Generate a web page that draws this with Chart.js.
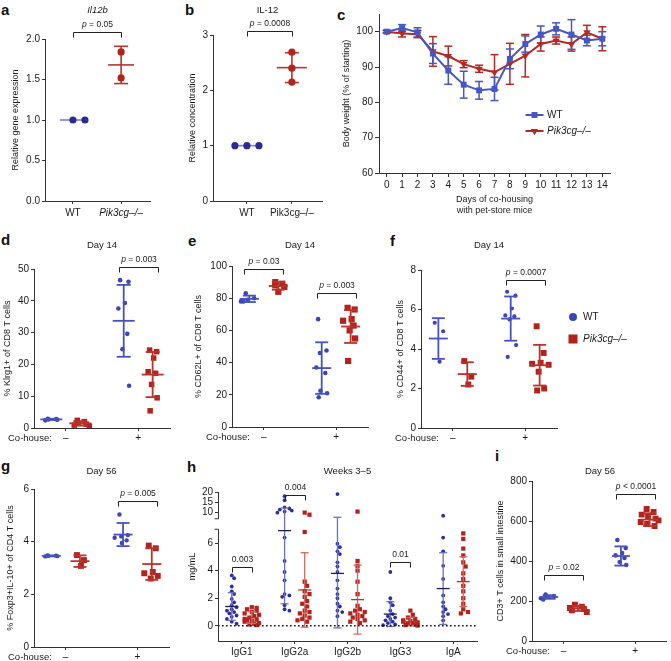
<!DOCTYPE html>
<html>
<head>
<meta charset="utf-8">
<title>Pik3cg co-housing figure</title>
<script src="https://cdn.jsdelivr.net/npm/chart.js@4.4.1/dist/chart.umd.min.js"></script>
<style>
  html, body { margin: 0; padding: 0; background: #fff; }
  body { position: relative; width: 671px; height: 661px; overflow: hidden; font-family: 'Liberation Sans', Arial, sans-serif; }
  canvas { position: absolute; }
  .tag { position: absolute; font-weight: bold; font-size: 15px; line-height: 15px; color: #111; }
</style>
</head>
<body>
<div class="tag" style="left:1px;top:2px">a</div>
<div class="tag" style="left:185px;top:2px">b</div>
<div class="tag" style="left:337px;top:7px">c</div>
<div class="tag" style="left:1px;top:232px">d</div>
<div class="tag" style="left:188px;top:233px">e</div>
<div class="tag" style="left:390px;top:233px">f</div>
<div class="tag" style="left:1px;top:458px">g</div>
<div class="tag" style="left:187px;top:459px">h</div>
<div class="tag" style="left:495px;top:448px">i</div>

<canvas id="pa"></canvas>
<canvas id="pb"></canvas>
<canvas id="pc"></canvas>
<canvas id="pd"></canvas>
<canvas id="pe"></canvas>
<canvas id="pf"></canvas>
<canvas id="pg"></canvas>
<canvas id="ph"></canvas>
<canvas id="pi"></canvas>

<script>
// ---------------- data ----------------
// a: Il12b expression
const aLabels = ['WT', 'Pik3cg–/–'];
const aWT = [1.0, 1.0];
const aKO = [1.84, 1.52];
const aMean = [1.0, 1.68];
const aSD = [0, 0.23];
const aYTicks = [0, 0.5, 1.0, 1.5, 2.0];

// b: IL-12
const bLabels = ['WT', 'Pik3cg–/–'];
const bWT = [1.0, 1.0, 1.0];
const bKO = [2.69, 2.40, 2.15];
const bMean = [1.0, 2.41];
const bSD = [0, 0.27];
const bYTicks = [0, 1, 2, 3];

// c: body weight over co-housing
const cDays = [0, 1, 2, 3, 4, 5, 6, 7, 8, 9, 10, 11, 12, 13, 14];
const cWT    = [100, 101.0, 99.8, 93.8, 89.0, 85.0, 83.4, 83.8, 92.3, 96.5, 99.2, 100.8, 99.2, 97.5, 98.0];
const cWTerr = [0.4, 1.0, 1.3, 2.8, 3.9, 3.8, 2.5, 3.3, 2.8, 2.3, 2.4, 1.7, 4.2, 1.5, 2.0];
const cKO    = [100, 99.5, 99.3, 94.4, 93.1, 90.8, 89.5, 88.5, 90.9, 93.2, 96.5, 97.5, 96.5, 99.8, 98.0];
const cKOerr = [0.3, 1.0, 1.0, 4.2, 2.8, 1.0, 1.0, 5.0, 5.8, 6.0, 2.0, 1.0, 2.0, 2.0, 3.4];
const cYTicks = [60, 70, 80, 90, 100];
const seriesNames = ['WT', 'Pik3cg–/–'];

// co-housing panels: group order is WT-, KO-, WT+, KO+
const coLabels = ['–', '+'];

// d: Klrg1+ of CD8, day 14
const dWTneg = [2.9, 2.8, 2.7, 2.6, 2.4];
const dKOneg = [2.4, 2.0, 1.6, 1.2, 0.9, 0.6];
const dWTpos = [46.5, 46.0, 39.3, 37.6, 29.6, 24.8, 13.3];
const dKOpos = [24.5, 24.0, 22.0, 17.7, 17.2, 13.7, 9.5, 5.4];
const dMean = [2.7, 1.45, 33.7, 16.8];
const dSD = [0.2, 0.7, 11.3, 7.1];
const dYTicks = [0, 10, 20, 30, 40, 50];

// e: CD62L+ of CD8, day 14
const eWTneg = [83, 80, 79, 78, 78];
const eKOneg = [90, 89, 88, 87, 84];
const eWTpos = [67, 47.5, 46, 37, 33.5, 22.5, 21, 18.5];
const eKOpos = [74, 73, 67, 66, 63, 60, 55, 41];
const eMean = [79.6, 87.6, 36.6, 62.4];
const eSD = [2.0, 2.3, 16.0, 10.2];
const eYTicks = [0, 20, 40, 60, 80, 100];

// f: CD44+ of CD8, day 14
const fWTneg = [5.33, 4.9, 3.36];
const fKOneg = [3.39, 2.6, 2.2];
const fWTpos = [6.9, 6.7, 6.05, 5.7, 5.65, 5.5, 4.2, 3.6];
const fKOpos = [5.15, 3.8, 3.3, 3.25, 3.2, 2.85, 2.0, 1.9];
const fMean = [4.53, 2.73, 5.54, 3.18];
const fSD = [1.03, 0.6, 1.12, 1.03];
const fYTicks = [0, 2, 4, 6, 8];

// g: Foxp3+IL-10+ of CD4, day 56
const gWTneg = [3.48, 3.47, 3.46, 3.45, 3.44];
const gKOneg = [3.49, 3.3, 3.08];
const gWTpos = [5.03, 4.25, 4.2, 4.15, 4.05, 3.95];
const gKOpos = [3.85, 3.75, 2.85, 2.8, 2.7, 2.6];
const gMean = [3.46, 3.26, 4.27, 3.15];
const gSD = [0.02, 0.22, 0.44, 0.6];
const gYTicks = [0, 2, 4, 6];

// h: serum immunoglobulins, weeks 3-5 (mg/mL)
const hLabels = ['IgG1', 'IgG2a', 'IgG2b', 'IgG3', 'IgA'];
const hWT = [
  [3.65, 3.45, 2.85, 2.5, 2.3, 1.95, 1.7, 1.5, 1.35, 1.2, 1.1, 1.0, 0.9, 0.75, 0.65, 0.5, 0.3, 0.15],
  [18, 16, 12.5, 12, 11.5, 11, 10.5, 10, 6.4, 4.7, 3.9, 3.3, 2.3, 2.2, 2.1, 1.5, 1.2, 1.1],
  [19, 5.95, 5.7, 5.4, 5.2, 4.6, 4.3, 3.9, 3.3, 2.7, 2.3, 2.0, 1.6, 1.4, 1.1, 1.0, 0.7],
  [3.9, 2.0, 1.7, 1.5, 1.1, 0.85, 0.7, 0.6, 0.5, 0.4, 0.3, 0.2, 0.1, 0.05],
  [8.5, 6.4, 5.4, 4.35, 3.4, 2.2, 1.7, 1.4, 1.2, 1.0, 0.85, 0.7, 0.4]
];
const hKO = [
  [1.35, 1.3, 1.2, 1.1, 1.0, 0.9, 0.8, 0.7, 0.6, 0.5, 0.45, 0.4, 0.35, 0.3, 0.2, 0.15, 0.1, 0.05],
  [10, 9, 6.8, 3.2, 2.9, 2.5, 2.3, 2.1, 1.8, 1.6, 1.4, 1.1, 1.0, 0.9, 0.75, 0.6, 0.5, 0.4, 0.3],
  [10.5, 4.7, 4.35, 4.0, 3.2, 2.3, 1.45, 1.2, 1.1, 1.0, 0.9, 0.8, 0.7, 0.6, 0.5, 0.4, 0.3, 0.2],
  [1.1, 0.8, 0.6, 0.5, 0.4, 0.35, 0.3, 0.25, 0.2, 0.15, 0.1, 0.05, 0.02],
  [6.7, 6.3, 5.6, 5.1, 4.6, 4.3, 3.8, 3.4, 2.9, 2.5, 2.0, 1.6, 1.2, 1.0, 0.9]
];
const hWTmean = [1.4, 6.9, 3.8, 0.85, 2.7];
const hWTsd = [1.0, 5.3, 3.95, 0.9, 2.6];
const hKOmean = [0.6, 2.6, 1.9, 0.3, 3.2];
const hKOsd = [0.42, 2.7, 2.5, 0.3, 1.8];
const hYTicks = [0, 2, 4, 6, 10, 15, 20];

// i: CD3+ T cells in small intestine, day 56
const iWTneg = [232, 225, 220, 214, 208];
const iKOneg = [182, 172, 165, 160, 153, 145];
const iWTpos = [505, 465, 440, 428, 415, 395, 380];
const iKOpos = [660, 645, 632, 620, 612, 603, 595, 585, 575];
const iMean = [220, 163, 425, 607];
const iSD = [9, 13, 48, 32];
const iYTicks = [0, 200, 400, 600, 800];

// ---------------- look ----------------
const FONT = "'Liberation Sans', Arial, Helvetica, sans-serif";
const AX = '#333';
const TXT = '#1b1b1b';
const INDIGO = '#2c2a94';
const BLUE = '#3d45b0', BLUE_BAR = '#4753bb';
const RED = '#b3231e', RED_BAR = '#b8342d';
const C_BLUE = '#4757c2', C_RED = '#b12a24';
Chart.defaults.font.family = FONT;
Chart.defaults.color = TXT;

// preferred sideways shift (in units of style.jit px) so sparse groups are not a single column
const JIT = [-0.6, 0.8, 0.2, -0.9, 0.6, -0.2, 0.9, -0.5, 0.4];

const fnt = (size, style) => ({family: FONT, size: size, style: style || 'normal', weight: 'normal', lineHeight: 1.2});
const P = s => [{t: 'p', i: true}, {t: ' ' + s}];

function line(ctx, x1, y1, x2, y2) {
  ctx.beginPath(); ctx.moveTo(x1, y1); ctx.lineTo(x2, y2); ctx.stroke();
}

// text with italic pieces, centred (or left aligned) on cx
function rich(ctx, parts, cx, cy, size, align) {
  ctx.textBaseline = 'middle';
  ctx.textAlign = 'left';
  ctx.fillStyle = TXT;
  const fonts = parts.map(pt => (pt.i ? 'italic ' : '') + size + 'px ' + FONT);
  const widths = parts.map((pt, k) => { ctx.font = fonts[k]; return ctx.measureText(pt.t).width; });
  const total = widths.reduce((s, w) => s + w, 0);
  let x = align === 'left' ? cx : cx - total / 2;
  parts.forEach((pt, k) => { ctx.font = fonts[k]; ctx.fillText(pt.t, x, cy); x += widths[k]; });
}

// deterministic beeswarm: pixel offsets for one group
function swarm(vals, toPx, st) {
  const placed = [];
  const base = [0];
  for (let k = 1; k * st.step <= st.max; k++) base.push(k * st.step, -k * st.step);
  return vals.map((v, i) => {
    const y = toPx(v);
    const pref = st.jit ? JIT[i % JIT.length] * st.jit : 0;
    const cands = [pref].concat(base.map(c => c + pref).filter(c => Math.abs(c) <= st.max));
    let pick = cands.find(c => placed.every(q => Math.hypot(q.x - c, q.y - y) >= st.sep));
    if (pick === undefined) pick = base[placed.length % base.length];
    placed.push({x: pick, y: y});
    return pick;
  });
}

function place(cv, box) {
  cv.width = box.w; cv.height = box.h;
  cv.style.left = box.x + 'px'; cv.style.top = box.y + 'px';
  cv.style.width = box.w + 'px'; cv.style.height = box.h + 'px';
}

// broken y axis for panel h: values above the break are squeezed into the top strip
const hMin = -1.1, hMax = 20, hBreak = 7, hLowFrac = 0.75, hGapFrac = 0.07;
function hFrac(v) {
  if (v <= hBreak) return (v - hMin) / (hBreak - hMin) * hLowFrac;
  return hLowFrac + hGapFrac + (v - hBreak) / (hMax - hBreak) * (1 - hLowFrac - hGapFrac);
}
class BrokenScale extends Chart.LinearScale {
  getPixelForValue(v) {
    if (v === null || isNaN(v)) return NaN;
    return this.getPixelForDecimal(hFrac(v));
  }
  getValueForPixel(px) {
    const d = this.getDecimalForPixel(px);
    if (d <= hLowFrac) return hMin + d / hLowFrac * (hBreak - hMin);
    return hBreak + (d - hLowFrac - hGapFrac) / (1 - hLowFrac - hGapFrac) * (hMax - hBreak);
  }
}
BrokenScale.id = 'broken';
BrokenScale.defaults = Chart.LinearScale.defaults;
Chart.register(BrokenScale);

function scalesFor(p) {
  return {
    x: {
      type: 'linear', position: 'bottom', min: p.xRange[0], max: p.xRange[1],
      afterFit: s => { s.height = p.box.y + p.box.h - p.area.b; },
      afterBuildTicks: s => { s.ticks = p.xTicks.map(v => ({value: v})); },
      ticks: {
        autoSkip: false, maxRotation: 0, minRotation: 0, color: TXT, padding: p.xPad,
        font: c => fnt(10, (p.xItalic || []).includes(c.index) ? 'italic' : 'normal'),
        callback: (v, i) => p.xLabels[i]
      },
      grid: {display: true, drawOnChartArea: false, drawTicks: true, tickLength: p.tl, color: AX},
      border: {display: true, color: AX, width: 1},
      title: p.xTitle ? {display: true, text: p.xTitle, color: TXT, font: fnt(9), padding: 0} : {display: false}
    },
    y: {
      type: p.yType || 'linear', position: 'left', min: p.yRange[0], max: p.yRange[1],
      afterFit: s => { s.width = p.area.l - p.box.x; },
      afterBuildTicks: s => { s.ticks = p.yTicks.map(v => ({value: v})); },
      ticks: {autoSkip: false, color: TXT, padding: p.yPad, font: fnt(10),
        callback: v => p.yFmt ? p.yFmt(v) : String(v)},
      grid: {display: true, drawOnChartArea: false, drawTicks: true, tickLength: p.tl, color: AX},
      border: {display: !p.brokenAxis, color: AX, width: 1},
      title: {display: true, text: p.yTitle, color: TXT, font: fnt(9), padding: 0}
    }
  };
}

function baseOptions(p) {
  return {
    responsive: false, animation: false, devicePixelRatio: 1, events: [],
    layout: {padding: {left: 0, bottom: 0, top: p.area.t - p.box.y, right: p.box.x + p.box.w - p.area.r}},
    plugins: {legend: {display: false}, tooltip: {enabled: false}, title: {display: false}},
    scales: scalesFor(p)
  };
}

function notes(chart, p) {
  const ctx = chart.ctx, x = chart.scales.x, y = chart.scales.y;
  const ox = p.box.x, oy = p.box.y;
  ctx.save();
  if (p.title) rich(ctx, p.title.parts, (p.area.l + p.area.r) / 2 - ox, p.title.y - oy, 9.5);
  ctx.strokeStyle = '#222';
  ctx.lineWidth = 1;
  (p.brackets || []).forEach(bk => {
    const x1 = Math.round(x.getPixelForValue(bk.from)) + 0.5;
    const x2 = Math.round(x.getPixelForValue(bk.to)) + 0.5;
    const yy = Math.round(y.getPixelForValue(bk.y)) + 0.5;
    ctx.beginPath();
    ctx.moveTo(x1, yy + 5); ctx.lineTo(x1, yy); ctx.lineTo(x2, yy); ctx.lineTo(x2, yy + 5);
    ctx.stroke();
    rich(ctx, bk.parts, (x1 + x2) / 2, yy - 8, 8.5);
  });
  if (p.cohouse) {
    rich(ctx, [{t: 'Co-house:'}], p.area.l - 26 - ox, p.area.b + p.tl + p.xPad + 6 - oy, 9.5, 'left');
  }
  (p.legend || []).forEach(it => {
    const lx = it.x - ox, ly = it.y - oy;
    ctx.fillStyle = it.color;
    ctx.strokeStyle = it.color;
    if (it.line) { ctx.lineWidth = 2; line(ctx, lx - 9, ly, lx + 9, ly); }
    Chart.helpers.drawPoint(ctx, {pointStyle: it.shape, rotation: it.rot || 0, radius: it.r, borderWidth: 0}, lx, ly);
    rich(ctx, [{t: it.label, i: it.italic}], it.tx - ox, ly, 10, 'left');
  });
  ctx.restore();
}

function deco(p) {
  const drawBars = chart => {
    if (!p.groups) return;
    const ctx = chart.ctx, x = chart.scales.x, y = chart.scales.y;
    ctx.save();
    ctx.lineWidth = p.barWidth;
    p.groups.forEach(g => {
      const st = p.styles[g.kind];
      const cx = x.getPixelForValue(g.x);
      if (g.sd > 0) {
        const yt = y.getPixelForValue(g.mean + g.sd), yb = y.getPixelForValue(g.mean - g.sd);
        ctx.strokeStyle = st.bar;
        line(ctx, cx, yt, cx, yb);
        line(ctx, cx - p.cap, yt, cx + p.cap, yt);
        line(ctx, cx - p.cap, yb, cx + p.cap, yb);
      }
      const ym = y.getPixelForValue(g.mean);
      ctx.strokeStyle = st.mean || st.bar;
      line(ctx, cx - p.meanHalf, ym, cx + p.meanHalf, ym);
    });
    ctx.restore();
  };
  return {
    id: 'deco',
    beforeDatasetsDraw(chart) { if (!p.barsOnTop) drawBars(chart); if (p.before) p.before(chart); },
    afterDatasetsDraw(chart) { if (p.barsOnTop) drawBars(chart); if (p.extra) p.extra(chart); },
    afterDraw(chart) { notes(chart, p); }
  };
}

function dotPanel(p) {
  const cv = document.getElementById(p.id);
  place(cv, p.box);
  const pxX = (p.area.r - p.area.l) / (p.xRange[1] - p.xRange[0]);
  const toPx = p.yPx || (v => v * (p.area.b - p.area.t) / (p.yRange[1] - p.yRange[0]));
  const byKind = {};
  p.groups.forEach(g => {
    const offs = swarm(g.vals, toPx, p.styles[g.kind]);
    byKind[g.kind] = (byKind[g.kind] || []).concat(g.vals.map((v, i) => ({x: g.x + offs[i] / pxX, y: v})));
  });
  const datasets = Object.keys(byKind).map(k => {
    const st = p.styles[k];
    return {label: k, data: byKind[k], showLine: false, pointStyle: st.shape,
      pointRadius: st.r, pointHoverRadius: st.r, pointBackgroundColor: st.color, pointBorderWidth: 0};
  });
  return new Chart(cv, {type: 'scatter', data: {datasets: datasets}, options: baseOptions(p), plugins: [deco(p)]});
}

// four co-housing groups placed around the "-" (1) and "+" (2) ticks
const coX = [0.8, 1.2, 1.8, 2.2];
function coGroups(vals, mean, sd) {
  return vals.map((v, i) => ({kind: i % 2 ? 'ko' : 'wt', x: coX[i], vals: v, mean: mean[i], sd: sd[i]}));
}
function coStyles(wr, kr) {
  return {
    wt: {shape: 'circle', r: wr, color: BLUE, bar: BLUE_BAR, sep: 5, step: 3, max: 9, jit: 6},
    ko: {shape: 'rect', r: kr, color: RED, bar: RED_BAR, sep: 6, step: 3, max: 9, jit: 5}
  };
}
const coCommon = {xRange: [0.56, 2.44], xTicks: [1, 2], xLabels: coLabels, tl: 3, xPad: 1, yPad: 2,
  meanHalf: 10, cap: 6.5, barWidth: 1.8, barsOnTop: true, cohouse: true};

// ---------------- panel a ----------------
dotPanel({
  id: 'pa', box: {x: 10, y: 0, w: 150, h: 220}, area: {l: 45, t: 39, r: 150, b: 201},
  xRange: [0.42, 2.6], xTicks: [1, 2], xLabels: aLabels, xItalic: [1],
  yRange: [0, 2], yTicks: aYTicks, yFmt: v => v.toFixed(1), yTitle: 'Relative gene expression',
  tl: 3, xPad: 3, yPad: 2, meanHalf: 13, cap: 7, barWidth: 1.6,
  styles: {
    wt: {shape: 'circle', r: 3.6, color: INDIGO, bar: '#7d7ec8', sep: 12, step: 6, max: 12},
    ko: {shape: 'circle', r: 3.6, color: RED, bar: RED_BAR, sep: 8, step: 4, max: 8}
  },
  groups: [
    {kind: 'wt', x: 1, vals: aWT, mean: aMean[0], sd: aSD[0]},
    {kind: 'ko', x: 2, vals: aKO, mean: aMean[1], sd: aSD[1]}
  ],
  title: {parts: [{t: 'Il12b', i: true}], y: 10},
  brackets: [{from: 1, to: 2, y: 2.086, parts: P('= 0.05')}]
});

// ---------------- panel b ----------------
dotPanel({
  id: 'pb', box: {x: 187, y: 0, w: 145, h: 220}, area: {l: 213, t: 35, r: 322, b: 201},
  xRange: [0.245, 2.67], xTicks: [1, 2], xLabels: bLabels,
  yRange: [0, 3], yTicks: bYTicks, yTitle: 'Relative concentration',
  tl: 3, xPad: 3, yPad: 2, meanHalf: 15, cap: 7, barWidth: 1.6,
  styles: {
    wt: {shape: 'circle', r: 3.6, color: INDIGO, bar: '#7d7ec8', sep: 12, step: 6, max: 12},
    ko: {shape: 'circle', r: 3.6, color: RED, bar: RED_BAR, sep: 8, step: 4, max: 8}
  },
  groups: [
    {kind: 'wt', x: 1, vals: bWT, mean: bMean[0], sd: bSD[0]},
    {kind: 'ko', x: 2, vals: bKO, mean: bMean[1], sd: bSD[1]}
  ],
  title: {parts: [{t: 'IL-12'}], y: 10},
  brackets: [{from: 1, to: 2, y: 3.07, parts: P('= 0.0008')}]
});

// ---------------- panel c ----------------
(function () {
  const p = {
    id: 'pc', box: {x: 341, y: 0, w: 330, h: 216}, area: {l: 379, t: 14, r: 610, b: 173},
    xRange: [-0.5, 14.5], xTicks: cDays, xLabels: cDays.map(String),
    yRange: [60, 105], yTicks: cYTicks, yTitle: 'Body weight (% of starting)',
    xTitle: ['Days of co-housing', 'with pet-store mice'], tl: 4, xPad: 2, yPad: 2,
    legend: [
      {x: 534.5, y: 115, tx: 547, label: seriesNames[0], shape: 'rect', r: 4.2, color: C_BLUE, line: true},
      {x: 534.5, y: 131, tx: 547, label: seriesNames[1], italic: true, shape: 'triangle', rot: 180, r: 4.2, color: C_RED, line: true}
    ]
  };
  const series = [
    {mean: cWT, err: cWTerr, color: C_BLUE},
    {mean: cKO, err: cKOerr, color: C_RED}
  ];
  p.before = chart => {
    const ctx = chart.ctx, x = chart.scales.x, y = chart.scales.y;
    ctx.save();
    ctx.lineWidth = 1.5;
    series.slice().reverse().forEach(s => {
      ctx.strokeStyle = s.color;
      cDays.forEach((d, i) => {
        const cx = x.getPixelForValue(d);
        const yt = y.getPixelForValue(s.mean[i] + s.err[i]), yb = y.getPixelForValue(s.mean[i] - s.err[i]);
        line(ctx, cx, yt, cx, yb);
        line(ctx, cx - 4, yt, cx + 4, yt);
        line(ctx, cx - 4, yb, cx + 4, yb);
      });
    });
    ctx.restore();
  };
  const cv = document.getElementById(p.id);
  place(cv, p.box);
  new Chart(cv, {
    type: 'line',
    data: {
      datasets: [
        {label: seriesNames[0], data: cDays.map((d, i) => ({x: d, y: cWT[i]})), borderColor: C_BLUE,
          backgroundColor: C_BLUE, borderWidth: 2, tension: 0, pointStyle: 'rect', pointRadius: 4.2,
          pointBorderWidth: 0, pointBackgroundColor: C_BLUE},
        {label: seriesNames[1], data: cDays.map((d, i) => ({x: d, y: cKO[i]})), borderColor: C_RED,
          backgroundColor: C_RED, borderWidth: 2, tension: 0, pointStyle: 'triangle', pointRotation: 180,
          pointRadius: 4.2, pointBorderWidth: 0, pointBackgroundColor: C_RED}
      ]
    },
    options: baseOptions(p),
    plugins: [deco(p)]
  });
})();

// ---------------- panel d ----------------
dotPanel(Object.assign({}, coCommon, {
  id: 'pd', box: {x: 2, y: 222, w: 180, h: 223}, area: {l: 34, t: 269, r: 170, b: 428},
  yRange: [0, 50], yTicks: dYTicks, yTitle: '% Klrg1+ of CD8 T cells', meanHalf: 11, cap: 7,
  styles: coStyles(2.3, 3.9),
  groups: coGroups([dWTneg, dKOneg, dWTpos, dKOpos], dMean, dSD),
  title: {parts: [{t: 'Day 14'}], y: 245},
  brackets: [{from: 1.73, to: 2.27, y: 50.6, parts: P('= 0.003')}]
}));

// ---------------- panel e ----------------
dotPanel(Object.assign({}, coCommon, {
  id: 'pe', box: {x: 193, y: 222, w: 185, h: 223}, area: {l: 232, t: 266, r: 368, b: 427},
  yRange: [0, 100], yTicks: eYTicks, yTitle: '% CD62L+ of CD8 T cells', meanHalf: 9.5,
  styles: coStyles(2.3, 4.4),
  groups: coGroups([eWTneg, eKOneg, eWTpos, eKOpos], eMean, eSD),
  title: {parts: [{t: 'Day 14'}], y: 245},
  brackets: [
    {from: 0.73, to: 1.27, y: 98, parts: P('= 0.03')},
    {from: 1.73, to: 2.27, y: 83, parts: P('= 0.003')}
  ]
}));

// ---------------- panel f ----------------
dotPanel(Object.assign({}, coCommon, {
  id: 'pf', box: {x: 395, y: 222, w: 276, h: 223}, area: {l: 421, t: 270, r: 557, b: 428},
  yRange: [0, 8], yTicks: fYTicks, yTitle: '% CD44+ of CD8 T cells', meanHalf: 9.5,
  styles: coStyles(2.1, 4.2),
  groups: coGroups([fWTneg, fKOneg, fWTpos, fKOpos], fMean, fSD),
  title: {parts: [{t: 'Day 14'}], y: 245},
  brackets: [{from: 1.73, to: 2.27, y: 7.49, parts: P('= 0.0007')}],
  legend: [
    {x: 573, y: 317, tx: 583, label: seriesNames[0], shape: 'circle', r: 4, color: BLUE},
    {x: 573, y: 339, tx: 583, label: seriesNames[1], italic: true, shape: 'rect', r: 6.4, color: RED}
  ]
}));

// ---------------- panel g ----------------
dotPanel(Object.assign({}, coCommon, {
  id: 'pg', box: {x: 5, y: 442, w: 175, h: 219}, area: {l: 34, t: 489, r: 169, b: 647},
  yRange: [0, 6], yTicks: gYTicks, yTitle: '% Foxp3+IL-10+ of CD4 T cells', meanHalf: 9.5,
  styles: coStyles(2.2, 4.2),
  groups: coGroups([gWTneg, gKOneg, gWTpos, gKOpos], gMean, gSD),
  title: {parts: [{t: 'Day 56'}], y: 471},
  brackets: [{from: 1.73, to: 2.27, y: 5.55, parts: P('= 0.005')}]
}));

// ---------------- panel h ----------------
(function () {
  const hArea = {l: 218, t: 492, r: 477, b: 641};
  const groups = [];
  hLabels.forEach((_, k) => {
    groups.push({kind: 'wt', x: k + 1 - 0.19, vals: hWT[k], mean: hWTmean[k], sd: hWTsd[k]});
    groups.push({kind: 'ko', x: k + 1 + 0.19, vals: hKO[k], mean: hKOmean[k], sd: hKOsd[k]});
  });
  dotPanel({
    id: 'ph', box: {x: 187, y: 442, w: 300, h: 219}, area: hArea,
    xRange: [0.55, 5.45], xTicks: [1, 2, 3, 4, 5], xLabels: hLabels,
    yType: 'broken', brokenAxis: true, yRange: [hMin, hMax], yTicks: hYTicks, yTitle: 'mg/mL',
    yPx: v => hFrac(v) * (hArea.b - hArea.t),
    tl: 3, xPad: 2, yPad: 2, meanHalf: 6.5, cap: 4, barWidth: 1.3, barsOnTop: true,
    styles: {
      wt: {shape: 'circle', r: 1.9, color: '#2f2f9c', bar: '#6a70c6', mean: '#1d1d50', sep: 3.6, step: 2.4, max: 7.2},
      ko: {shape: 'rect', r: 3.0, color: RED, bar: '#d06c64', mean: '#b8342c', sep: 4.2, step: 2.4, max: 7.2}
    },
    groups: groups,
    title: {parts: [{t: 'Weeks 3–5'}], y: 471},
    brackets: [
      {from: 0.81, to: 1.19, y: 4.28, parts: [{t: '0.003'}]},
      {from: 1.81, to: 2.19, y: 18.5, parts: [{t: '0.004'}]},
      {from: 3.81, to: 4.19, y: 4.64, parts: [{t: '0.01'}]}
    ],
    extra: chart => {
      const ctx = chart.ctx, y = chart.scales.y, a = chart.chartArea;
      ctx.save();
      // dotted zero line
      ctx.strokeStyle = '#111';
      ctx.lineWidth = 1.6;
      ctx.setLineDash([1.6, 2.4]);
      const y0 = y.getPixelForValue(0);
      line(ctx, a.left, y0, a.right, y0);
      ctx.setLineDash([]);
      // split y axis
      ctx.strokeStyle = AX;
      ctx.lineWidth = 1;
      const xl = Math.round(a.left) + 0.5;
      const lowTop = y.getPixelForValue(hBreak);
      const upBot = y.getPixelForDecimal(hLowFrac + hGapFrac);
      line(ctx, xl, a.bottom, xl, lowTop);
      line(ctx, xl - 4, lowTop, xl, lowTop);
      line(ctx, xl, upBot, xl, a.top);
      line(ctx, xl - 4, upBot, xl, upBot);
      ctx.restore();
    }
  });
})();

// ---------------- panel i ----------------
dotPanel(Object.assign({}, coCommon, {
  id: 'pi', box: {x: 495, y: 442, w: 176, h: 219}, area: {l: 532, t: 481, r: 668, b: 641},
  yRange: [0, 800], yTicks: iYTicks, yTitle: 'CD3+ T cells in small intestine', meanHalf: 9,
  styles: coStyles(2.3, 4.2),
  groups: coGroups([iWTneg, iKOneg, iWTpos, iKOpos], iMean, iSD),
  title: {parts: [{t: 'Day 56'}], y: 471},
  brackets: [
    {from: 0.73, to: 1.27, y: 330, parts: P('= 0.02')},
    {from: 1.73, to: 2.27, y: 735, parts: P('< 0.0001')}
  ]
}));
</script>
</body>
</html>
